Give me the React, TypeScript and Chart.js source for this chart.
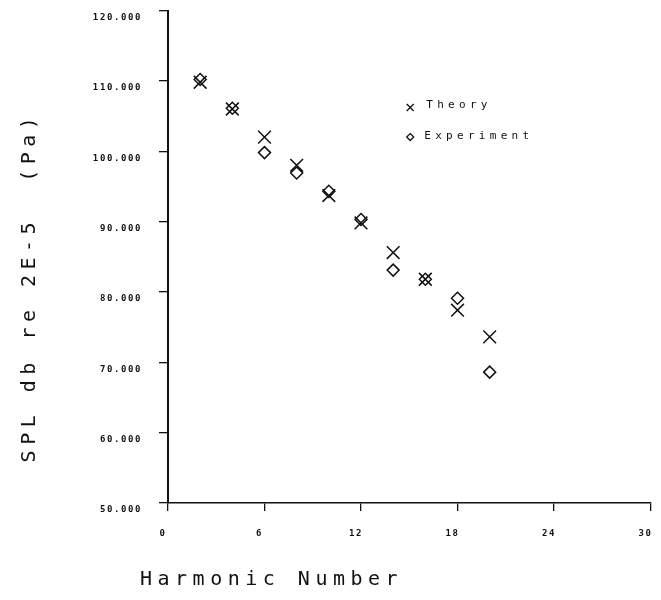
import React, { useEffect, useRef } from 'react';
import { Chart, registerables } from 'chart.js';

Chart.register(...registerables);

const harmonics = [2, 4, 6, 8, 10, 12, 14, 16, 18, 20];
const theory = [109.8, 106.0, 102.0, 98.0, 93.7, 89.8, 85.6, 81.8, 77.4, 73.6];
const experiment = [110.2, 106.1, 99.8, 96.9, 94.3, 90.3, 83.1, 81.8, 79.1, 68.6];
const xTicks = [0, 6, 12, 18, 24, 30];
const yTicks = [50, 60, 70, 80, 90, 100, 110, 120];
const seriesNames = ['Theory', 'Experiment'];
const xTitle = 'Harmonic Number';
const yTitle = 'SPL db re 2E-5  (Pa)';

const INK = '#111';
const MONO = '"DejaVu Sans Mono", "Liberation Mono", monospace';

const plotterText = {
  id: 'plotterText',
  beforeDraw(chart: any) {
    chart.ctx.letterSpacing = '1.6px';
  },
  afterDraw(chart: any) {
    const { ctx, chartArea } = chart;
    const ca = chartArea;
    ctx.save();
    ctx.fillStyle = INK;
    ctx.strokeStyle = INK;

    // Axis titles
    ctx.font = `20px ${MONO}`;
    ctx.letterSpacing = '5.5px';
    ctx.textBaseline = 'middle';
    ctx.textAlign = 'left';
    ctx.fillText(xTitle, ca.left - 28, 580);

    ctx.save();
    ctx.translate(30, 287);
    ctx.rotate(-Math.PI / 2);
    ctx.textAlign = 'center';
    ctx.fillText(yTitle, 0, 0);
    ctx.restore();

    // Legend
    const lx = ca.left + (ca.right - ca.left) * 0.502;
    const ly1 = ca.top + (ca.bottom - ca.top) * 0.197;
    const ly2 = ca.top + (ca.bottom - ca.top) * 0.257;
    ctx.lineWidth = 1.3;
    ctx.beginPath();
    ctx.moveTo(lx - 3.5, ly1 - 3.5);
    ctx.lineTo(lx + 3.5, ly1 + 3.5);
    ctx.moveTo(lx + 3.5, ly1 - 3.5);
    ctx.lineTo(lx - 3.5, ly1 + 3.5);
    ctx.stroke();
    ctx.beginPath();
    ctx.moveTo(lx, ly2 - 3.5);
    ctx.lineTo(lx + 3.5, ly2);
    ctx.lineTo(lx, ly2 + 3.5);
    ctx.lineTo(lx - 3.5, ly2);
    ctx.closePath();
    ctx.stroke();

    ctx.font = `11px ${MONO}`;
    ctx.letterSpacing = '4.3px';
    ctx.textAlign = 'left';
    ctx.fillText(seriesNames[0], lx + 16, ly1 - 2);
    ctx.fillText(seriesNames[1], lx + 14, ly2 - 1);
    ctx.restore();
  },
};

export default function App() {
  const ref = useRef<HTMLCanvasElement | null>(null);

  useEffect(() => {
    if (!ref.current) return;
    const chart = new Chart(ref.current, {
      type: 'scatter',
      data: {
        datasets: [
          {
            label: seriesNames[0],
            data: harmonics.map((h, i) => ({ x: h, y: theory[i] })),
            pointStyle: 'crossRot',
            pointRadius: 9,
            pointHoverRadius: 9,
            borderColor: INK,
            backgroundColor: 'rgba(0,0,0,0)',
            borderWidth: 1.5,
          },
          {
            label: seriesNames[1],
            data: harmonics.map((h, i) => ({ x: h, y: experiment[i] })),
            pointStyle: 'rectRot',
            pointRadius: 6,
            pointHoverRadius: 6,
            borderColor: INK,
            backgroundColor: 'rgba(0,0,0,0)',
            borderWidth: 1.5,
          },
        ],
      },
      options: {
        responsive: false,
        animation: false,
        layout: { padding: { top: 8, right: 9, left: 0, bottom: 0 } },
        plugins: {
          legend: { display: false },
          tooltip: { enabled: false },
          title: { display: false },
        },
        scales: {
          x: {
            type: 'linear',
            min: 0,
            max: 30,
            afterBuildTicks: (s: any) => {
              s.ticks = xTicks.map((v) => ({ value: v }));
            },
            afterFit: (s: any) => {
              s.height = 97;
              s.paddingLeft = 0;
              s.paddingRight = 0;
              s.paddingTop = 0;
              s.paddingBottom = 0;
            },
            grid: {
              display: true,
              drawOnChartArea: false,
              drawTicks: true,
              tickLength: 8,
              color: INK,
              lineWidth: 1.3,
            },
            border: { display: true, color: INK, width: 1.5 },
            ticks: {
              color: INK,
              font: { family: MONO, size: 9, weight: 'bold' },
              padding: 17,
              labelOffset: -5,
              maxRotation: 0,
              autoSkip: false,
              callback: (v: any) => String(v),
            },
          },
          y: {
            type: 'linear',
            min: 50,
            max: 120,
            afterBuildTicks: (s: any) => {
              s.ticks = yTicks.map((v) => ({ value: v }));
            },
            afterFit: (s: any) => {
              s.width = 168;
              s.paddingLeft = 0;
              s.paddingRight = 0;
              s.paddingTop = 0;
              s.paddingBottom = 0;
            },
            grid: {
              display: true,
              drawOnChartArea: false,
              drawTicks: true,
              tickLength: 9,
              color: INK,
              lineWidth: 1.3,
            },
            border: { display: true, color: INK, width: 2 },
            ticks: {
              color: INK,
              font: { family: MONO, size: 9, weight: 'bold' },
              padding: 17,
              labelOffset: 7,
              autoSkip: false,
              callback: (v: any) => Number(v).toFixed(3),
            },
          },
        },
      },
      plugins: [plotterText],
    });
    return () => chart.destroy();
  }, []);

  return (
    <div
      style={{
        position: 'fixed',
        left: 0,
        top: 0,
        width: 661,
        height: 600,
        background: '#fff',
      }}
    >
      <canvas ref={ref} width={661} height={600} style={{ display: 'block' }} />
    </div>
  );
}
